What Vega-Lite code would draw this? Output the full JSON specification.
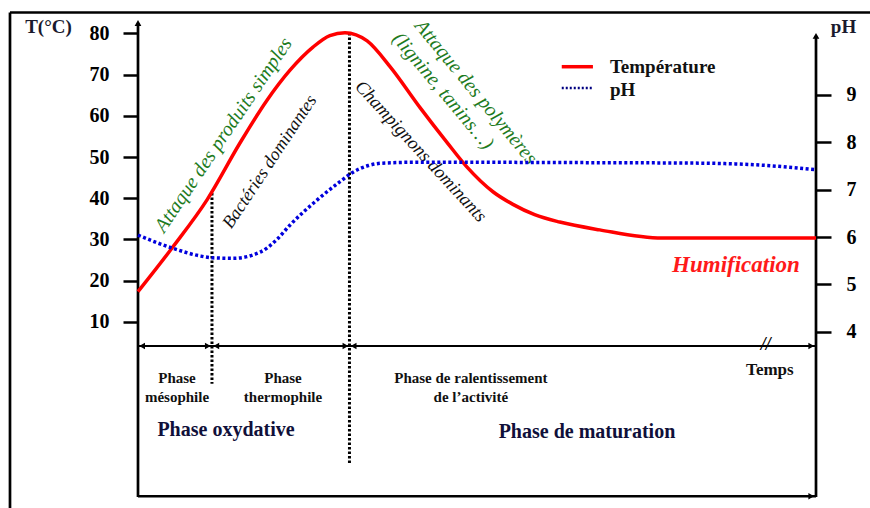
{
  "$schema": "https://vega.github.io/schema/vega-lite/v6.json",
  "width": 678,
  "height": 485,
  "autosize": {"type": "none"},
  "padding": {"left": 138, "top": 12, "right": 54, "bottom": 11},
  "background": "white",
  "config": {"view": {"stroke": null}, "font": "Liberation Serif"},
  "datasets": {
    "temp": [
      {"t": 0, "T": 17.3}, {"t": 5.16, "T": 28.2}, {"t": 10.18, "T": 39.6}, {"t": 15.04, "T": 53.4},
      {"t": 19.03, "T": 63.8}, {"t": 22.42, "T": 71.1}, {"t": 25.81, "T": 76.7}, {"t": 28.3, "T": 79.5},
      {"t": 30.53, "T": 80.2}, {"t": 33.8, "T": 78.2}, {"t": 37.2, "T": 71.9}, {"t": 41.6, "T": 62.0},
      {"t": 45.6, "T": 53.5}, {"t": 48.5, "T": 47.6}, {"t": 52.4, "T": 41.5}, {"t": 55.3, "T": 38.5},
      {"t": 58.5, "T": 36.0}, {"t": 62.2, "T": 34.2}, {"t": 68.1, "T": 32.3}, {"t": 77.3, "T": 30.3},
      {"t": 100, "T": 30.3}
    ],
    "ph": [
      {"t": 0, "pH": 6.04}, {"t": 5.16, "pH": 5.76}, {"t": 9.14, "pH": 5.6}, {"t": 11.06, "pH": 5.56},
      {"t": 14.01, "pH": 5.55}, {"t": 18.0, "pH": 5.68}, {"t": 20.5, "pH": 5.95}, {"t": 22.4, "pH": 6.25},
      {"t": 26.4, "pH": 6.78}, {"t": 29.8, "pH": 7.17}, {"t": 31.5, "pH": 7.35}, {"t": 34.0, "pH": 7.51},
      {"t": 36.0, "pH": 7.56}, {"t": 41.59, "pH": 7.58}, {"t": 68.14, "pH": 7.57}, {"t": 82.89, "pH": 7.56},
      {"t": 91.74, "pH": 7.52}, {"t": 100, "pH": 7.42}
    ],
    "frame": [
      {"t": -18.88, "t2": 108, "T": 85.1, "T2": 85.1},
      {"t": -18.88, "t2": -18.88, "T": 85.1, "T2": -35.3},
      {"t": 0, "t2": 0, "T": 82.5, "T2": -32.58},
      {"t": 100, "t2": 100, "T": 79.4, "T2": -32.58},
      {"t": 0, "t2": 100, "T": -32.4, "T2": -32.4}
    ],
    "timeline": [{"t": 0, "t2": 100, "T": 4.1, "T2": 4.1}],
    "dotted": [
      {"t": 10.91, "t2": 10.91, "T": 41.25, "T2": -5.1},
      {"t": 31.19, "t2": 31.19, "T": 80.1, "T2": -24.3}
    ],
    "arrows": [
      {"t": 0.6, "T": 4.1, "dir": "left"}, {"t": 10.3, "T": 4.1, "dir": "right"},
      {"t": 11.55, "T": 4.1, "dir": "left"}, {"t": 30.6, "T": 4.1, "dir": "right"},
      {"t": 31.8, "T": 4.1, "dir": "left"}, {"t": 99.3, "T": 4.1, "dir": "right"},
      {"t": 99.3, "T": -32.4, "dir": "right"}, {"t": 0, "T": 82.55, "dir": "up"},
      {"t": 100, "T": 79.4, "dir": "up"}
    ],
    "legendTemp": [{"t": 62.5, "t2": 67.1, "T": 71.93, "T2": 71.93}],
    "legendPh": [{"t": 62.5, "t2": 67.1, "T": 66.76, "T2": 66.76}],
    "legendText": [
      {"t": 69.6, "T": 71.9, "label": "Température"},
      {"t": 69.6, "T": 66.28, "label": "pH"}
    ],
    "titles": [
      {"t": -13.2, "T": 81.58, "label": "T(°C)"},
      {"t": 104.06, "T": 81.46, "label": "pH"}
    ],
    "phases": [
      {"t": 5.75, "T": -4.97, "label": "Phase\nmésophile"},
      {"t": 21.39, "T": -4.97, "label": "Phase\nthermophile"},
      {"t": 49.1, "T": -4.97, "label": "Phase de ralentissement\nde l’activité"}
    ],
    "bigPhases": [
      {"t": 12.98, "T": -16.31, "label": "Phase oxydative"},
      {"t": 66.22, "T": -16.8, "label": "Phase de maturation"}
    ],
    "temps": [{"t": 93.2, "T": -1.73, "label": "Temps"}],
    "brk": [{"t": 92.6, "T": 4.4, "label": "//"}],
    "humif": [{"t": 88.2, "T": 23.77, "label": "Humification"}],
    "greenUp": [{"t": 12.61, "T": 55.35, "label": "Attaque des produits simples"}],
    "bact": [{"t": 19.47, "T": 48.79, "label": "Bactéries dominantes"}],
    "champ": [{"t": 41.74, "T": 51.46, "label": "Champignons dominants"}],
    "poly1": [{"t": 49.85, "T": 65.79, "label": "Attaque des polymères"}],
    "poly2": [{"t": 44.99, "T": 66.03, "label": "(lignine, tanins…)"}]
  },
  "layer": [
    {
      "encoding": {
        "x": {"field": "t", "type": "quantitative", "scale": {"domain": [0, 100], "nice": false, "zero": false}, "axis": null},
        "y": {
          "field": "T", "type": "quantitative",
          "scale": {"domain": [-32.58, 85.22], "nice": false, "zero": false},
          "axis": {
            "orient": "left", "values": [10, 20, 30, 40, 50, 60, 70, 80], "domain": false, "grid": false,
            "tickSize": 15, "tickWidth": 2.5, "tickColor": "#000", "labelFont": "Liberation Serif",
            "labelFontSize": 20, "labelFontWeight": "bold", "labelColor": "#000", "labelPadding": 14,
            "title": null, "labelOverlap": false
          }
        }
      },
      "layer": [
        {
          "data": {"name": "frame"},
          "mark": {"type": "rule", "stroke": "#000", "strokeWidth": 2.7},
          "encoding": {"x2": {"field": "t2"}, "y2": {"field": "T2"}}
        },
        {
          "data": {"name": "timeline"},
          "mark": {"type": "rule", "stroke": "#000", "strokeWidth": 2},
          "encoding": {"x2": {"field": "t2"}, "y2": {"field": "T2"}}
        },
        {
          "data": {"name": "arrows"},
          "mark": {"type": "point", "filled": true, "size": 45, "opacity": 1, "color": "#000"},
          "encoding": {
            "shape": {"field": "dir", "type": "nominal", "legend": null,
              "scale": {"domain": ["left", "right", "up"], "range": ["triangle-left", "triangle-right", "triangle-up"]}}
          }
        },
        {
          "data": {"name": "dotted"},
          "mark": {"type": "rule", "stroke": "#000", "strokeWidth": 3, "strokeDash": [2.5, 2]},
          "encoding": {"x2": {"field": "t2"}, "y2": {"field": "T2"}}
        },
        {
          "data": {"name": "temp"},
          "mark": {"type": "line", "color": "#ff0000", "strokeWidth": 3.5, "interpolate": "monotone"},
          "encoding": {}
        },
        {
          "data": {"name": "legendTemp"},
          "mark": {"type": "rule", "stroke": "#ff0000", "strokeWidth": 3.5},
          "encoding": {"x2": {"field": "t2"}, "y2": {"field": "T2"}}
        },
        {
          "data": {"name": "legendPh"},
          "mark": {"type": "rule", "stroke": "#000080", "strokeWidth": 2.5, "strokeDash": [2, 2]},
          "encoding": {"x2": {"field": "t2"}, "y2": {"field": "T2"}}
        },
        {
          "data": {"name": "legendText"},
          "mark": {"type": "text", "align": "left", "baseline": "middle", "font": "Liberation Serif", "fontSize": 19, "fontWeight": "bold", "color": "#111"},
          "encoding": {"text": {"field": "label"}}
        },
        {
          "data": {"name": "titles"},
          "mark": {"type": "text", "align": "center", "baseline": "middle", "font": "Liberation Serif", "fontSize": 19, "fontWeight": "bold", "color": "#1a1a2e"},
          "encoding": {"text": {"field": "label"}}
        },
        {
          "data": {"name": "phases"},
          "mark": {"type": "text", "align": "center", "baseline": "alphabetic", "lineBreak": "\n", "lineHeight": 19, "font": "Liberation Serif", "fontSize": 15, "fontWeight": "bold", "color": "#111"},
          "encoding": {"text": {"field": "label"}}
        },
        {
          "data": {"name": "bigPhases"},
          "mark": {"type": "text", "align": "center", "baseline": "middle", "font": "Liberation Serif", "fontSize": 20, "fontWeight": "bold", "color": "#10103a"},
          "encoding": {"text": {"field": "label"}}
        },
        {
          "data": {"name": "temps"},
          "mark": {"type": "text", "align": "center", "baseline": "middle", "font": "Liberation Serif", "fontSize": 17, "fontWeight": "bold", "color": "#111"},
          "encoding": {"text": {"field": "label"}}
        },
        {
          "data": {"name": "brk"},
          "mark": {"type": "text", "align": "center", "baseline": "middle", "font": "Liberation Serif", "fontSize": 18, "fontStyle": "italic", "fontWeight": "bold", "color": "#000"},
          "encoding": {"text": {"field": "label"}}
        },
        {
          "data": {"name": "humif"},
          "mark": {"type": "text", "align": "center", "baseline": "middle", "font": "Liberation Serif", "fontSize": 23, "fontStyle": "italic", "fontWeight": "bold", "color": "#ff1a1a"},
          "encoding": {"text": {"field": "label"}}
        },
        {
          "data": {"name": "greenUp"},
          "mark": {"type": "text", "align": "center", "baseline": "middle", "angle": -56, "font": "Liberation Serif", "fontSize": 20, "fontStyle": "italic", "color": "#1e7b1e"},
          "encoding": {"text": {"field": "label"}}
        },
        {
          "data": {"name": "bact"},
          "mark": {"type": "text", "align": "center", "baseline": "middle", "angle": -56.5, "font": "Liberation Serif", "fontSize": 18, "fontStyle": "italic", "color": "#111"},
          "encoding": {"text": {"field": "label"}}
        },
        {
          "data": {"name": "champ"},
          "mark": {"type": "text", "align": "center", "baseline": "middle", "angle": 47.4, "font": "Liberation Serif", "fontSize": 18.5, "fontStyle": "italic", "color": "#111"},
          "encoding": {"text": {"field": "label"}}
        },
        {
          "data": {"name": "poly1"},
          "mark": {"type": "text", "align": "center", "baseline": "middle", "angle": 50.5, "font": "Liberation Serif", "fontSize": 20, "fontStyle": "italic", "color": "#1e7b1e"},
          "encoding": {"text": {"field": "label"}}
        },
        {
          "data": {"name": "poly2"},
          "mark": {"type": "text", "align": "center", "baseline": "middle", "angle": 50, "font": "Liberation Serif", "fontSize": 20, "fontStyle": "italic", "color": "#1e7b1e"},
          "encoding": {"text": {"field": "label"}}
        }
      ]
    },
    {
      "layer": [
        {
          "data": {"name": "ph"},
          "mark": {"type": "line", "color": "#0000dd", "strokeWidth": 3.5, "strokeDash": [3, 2.5], "interpolate": "monotone"},
          "encoding": {
            "x": {"field": "t", "type": "quantitative", "scale": {"domain": [0, 100], "nice": false, "zero": false}, "axis": null},
            "y": {
              "field": "pH", "type": "quantitative",
              "scale": {"domain": [0.508, 10.753], "nice": false, "zero": false},
              "axis": {
                "orient": "right", "values": [4, 5, 6, 7, 8, 9], "domain": false, "grid": false,
                "tickSize": 15, "tickWidth": 2.5, "tickColor": "#000", "labelFont": "Liberation Serif",
                "labelFontSize": 20, "labelFontWeight": "bold", "labelColor": "#000", "labelPadding": 15,
                "title": null, "labelOverlap": false
              }
            }
          }
        }
      ]
    }
  ],
  "resolve": {"scale": {"y": "independent"}}
}
